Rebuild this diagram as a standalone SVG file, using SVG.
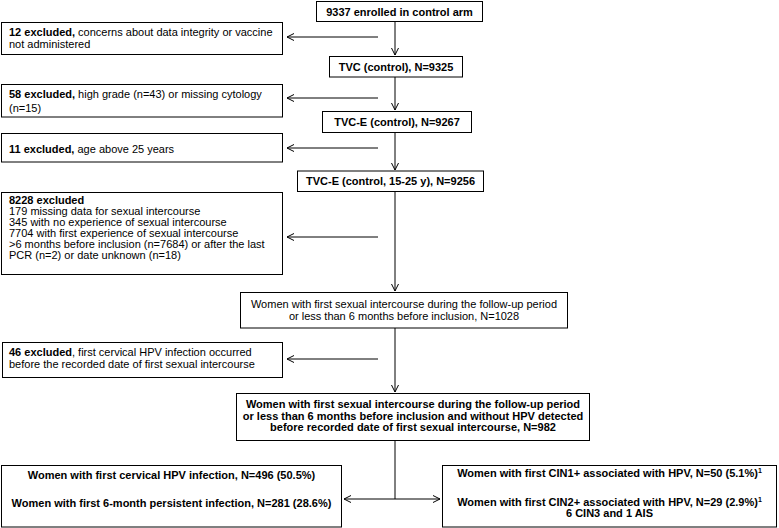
<svg xmlns="http://www.w3.org/2000/svg" width="779" height="528" viewBox="0 0 779 528">
<style>
.box{fill:#fff;stroke:#000;stroke-width:1}
text{font-family:"Liberation Sans",Arial,sans-serif;font-size:11px;fill:#000}
.b{font-weight:bold}
.c{text-anchor:middle}
.ln{stroke:#000;stroke-width:1;fill:none}
</style>
<defs>
<marker id="ah" viewBox="0 0 8 8" refX="7.5" refY="4" markerWidth="8" markerHeight="8" markerUnits="userSpaceOnUse" orient="auto">
<path d="M0.5,0.5 L7.5,4 L0.5,7.5" fill="none" stroke="#000" stroke-width="1"/>
</marker>
</defs>
<rect width="779" height="528" fill="#fff"/>
<g id="connectors">
<line class="ln" x1="395" y1="21" x2="395" y2="55" marker-end="url(#ah)"/>
<line class="ln" x1="395" y1="77" x2="395" y2="110" marker-end="url(#ah)"/>
<line class="ln" x1="395" y1="132" x2="395" y2="170" marker-end="url(#ah)"/>
<line class="ln" x1="395" y1="191" x2="395" y2="291" marker-end="url(#ah)"/>
<line class="ln" x1="395" y1="328" x2="395" y2="392" marker-end="url(#ah)"/>
<line class="ln" x1="378" y1="37" x2="287" y2="37" marker-end="url(#ah)"/>
<line class="ln" x1="378" y1="98" x2="287" y2="98" marker-end="url(#ah)"/>
<line class="ln" x1="378" y1="148" x2="287" y2="148" marker-end="url(#ah)"/>
<line class="ln" x1="378" y1="237" x2="287" y2="237" marker-end="url(#ah)"/>
<line class="ln" x1="378" y1="359" x2="287" y2="359" marker-end="url(#ah)"/>
<line class="ln" x1="395" y1="440" x2="395" y2="499"/>
<line class="ln" x1="395" y1="499" x2="344" y2="499" marker-end="url(#ah)"/>
<line class="ln" x1="395" y1="499" x2="440" y2="499" marker-end="url(#ah)"/>
</g>
<g id="n_enrolled">
<rect class="box" x="316.5" y="1.5" width="166" height="20"/>
<text class="b c" x="399.5" y="15.5">9337 enrolled in control arm</text>
</g>
<g id="n_tvc">
<rect class="box" x="329.5" y="56.5" width="133" height="20.5"/>
<text class="b c" x="396" y="70.5">TVC (control), N=9325</text>
</g>
<g id="n_tvce">
<rect class="box" x="322.5" y="111.5" width="149" height="21"/>
<text class="b c" x="397" y="125.5">TVC-E (control), N=9267</text>
</g>
<g id="n_tvce1525">
<rect class="box" x="297.5" y="171" width="186" height="20.5"/>
<text class="b c" x="390.5" y="185">TVC-E (control, 15-25 y), N=9256</text>
</g>
<g id="n_1028">
<rect class="box" x="240.5" y="292.5" width="327" height="35.5"/>
<text class="c" x="404" y="308">Women with first sexual intercourse during the follow-up period</text>
<text class="c" x="404" y="320">or less than 6 months before inclusion, N=1028</text>
</g>
<g id="n_982">
<rect class="box" x="236.5" y="393.5" width="353" height="47"/>
<text class="b c" x="413" y="408">Women with first sexual intercourse during the follow-up period</text>
<text class="b c" x="413" y="419.5">or less than 6 months before inclusion and without HPV detected</text>
<text class="b c" x="413" y="431">before recorded date of first sexual intercourse, N=982</text>
</g>
<g id="x_12">
<rect class="box" x="1.5" y="22.5" width="281" height="32"/>
<text x="9" y="36"><tspan class="b">12 excluded,</tspan> concerns about data integrity or vaccine</text>
<text x="9" y="48">not administered</text>
</g>
<g id="x_58">
<rect class="box" x="1.5" y="84.5" width="281" height="32.5"/>
<text x="9" y="98"><tspan class="b">58 excluded,</tspan> high grade (n=43) or missing cytology</text>
<text x="9" y="112">(n=15)</text>
</g>
<g id="x_11">
<rect class="box" x="1.5" y="133.5" width="281" height="28.5"/>
<text x="9" y="153"><tspan class="b">11 excluded,</tspan> age above 25 years</text>
</g>
<g id="x_8228">
<rect class="box" x="1.5" y="192.5" width="281" height="82"/>
<text class="b" x="9" y="204">8228 excluded</text>
<text x="9" y="215">179 missing data for sexual intercourse</text>
<text x="9" y="226">345 with no experience of sexual intercourse</text>
<text x="9" y="237">7704 with first experience of sexual intercourse</text>
<text x="9" y="248">&gt;6 months before inclusion (n=7684) or after the last</text>
<text x="9" y="259">PCR (n=2) or date unknown (n=18)</text>
</g>
<g id="x_46">
<rect class="box" x="2.5" y="342.5" width="280" height="35"/>
<text x="9" y="356"><tspan class="b">46 excluded</tspan>, first cervical HPV infection occurred</text>
<text x="9" y="368">before the recorded date of first sexual intercourse</text>
</g>
<g id="n_hpv">
<rect class="box" x="1.5" y="465.5" width="340" height="61.5"/>
<text class="b c" x="171.5" y="478.5">Women with first cervical HPV infection, N=496 (50.5%)</text>
<text class="b c" x="171.5" y="506.5">Women with first 6-month persistent infection, N=281 (28.6%)</text>
</g>
<g id="n_cin">
<rect class="box" x="442.5" y="465.5" width="334" height="61.5"/>
<text class="b c" x="609.5" y="477">Women with first CIN1+ associated with HPV, N=50 (5.1%)<tspan font-size="7" dy="-4">1</tspan></text>
<text class="b c" x="609.5" y="506">Women with first CIN2+ associated with HPV, N=29 (2.9%)<tspan font-size="7" dy="-4">1</tspan></text>
<text class="b c" x="609.5" y="517">6 CIN3 and 1 AIS</text>
</g>
</svg>
